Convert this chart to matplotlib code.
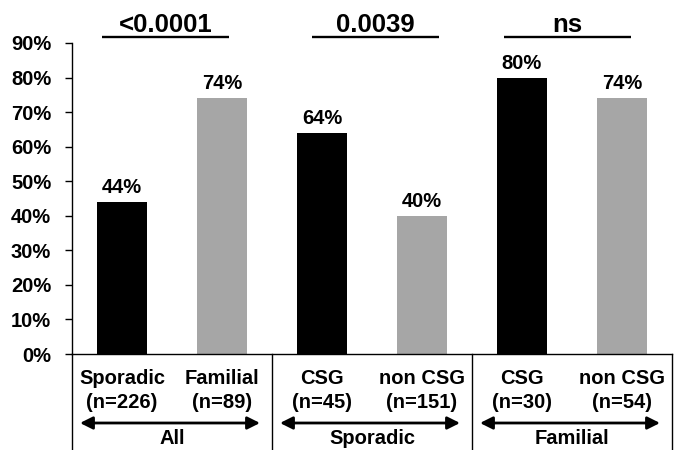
import matplotlib
matplotlib.use("Agg")
import matplotlib.pyplot as plt
import matplotlib.transforms as mtransforms

plt.rcParams['font.family'] = ['Liberation Sans', 'DejaVu Sans']
plt.rcParams['font.weight'] = 'bold'

categories = ["Sporadic", "Familial", "CSG", "non CSG", "CSG", "non CSG"]
n_labels = ["(n=226)", "(n=89)", "(n=45)", "(n=151)", "(n=30)", "(n=54)"]
values = [44, 74, 64, 40, 80, 74]
groups = ["All", "Sporadic", "Familial"]
pvalues = ["<0.0001", "0.0039", "ns"]
yticks = [0, 10, 20, 30, 40, 50, 60, 70, 80, 90]

bar_colors = ["#000000", "#a6a6a6"] * 3

W, H = 676, 450
fig = plt.figure(figsize=(W / 100, H / 100), dpi=100)
ax = fig.add_axes([72 / W, 1 - 354 / H, 600 / W, 311 / H])

x = list(range(len(values)))
ax.bar(x, values, width=0.5, color=bar_colors)
ax.set_xlim(-0.5, 5.5)
ax.set_ylim(0, 90)
ax.set_yticks(yticks)
ax.set_yticklabels([f"{t}%" for t in yticks], fontsize=14.5, fontweight='bold')
ax.set_xticks([])
ax.tick_params(axis='y', direction='out', length=5, width=1, pad=10)
for s in ['top', 'right']:
    ax.spines[s].set_visible(False)
ax.spines['left'].set_linewidth(1)
ax.spines['bottom'].set_linewidth(1)

# value labels
for xi, v in zip(x, values):
    ax.annotate(f"{v}%", (xi, v), xytext=(0, 6.5), textcoords='offset points',
                ha='center', va='baseline', fontsize=14.5, fontweight='bold')

# category labels below axis
blend = mtransforms.blended_transform_factory(ax.transData, fig.transFigure)
for xi, c, n in zip(x, categories, n_labels):
    ax.text(xi, 1 - 379 / H, c, transform=blend, ha='center', va='center',
            fontsize=14.5, fontweight='bold')
    ax.text(xi, 1 - 403 / H, n, transform=blend, ha='center', va='center',
            fontsize=14.5, fontweight='bold')

# table lines
for xb in [-0.5, 1.5, 3.5, 5.5]:
    ax.plot([xb, xb], [1 - 354 / H, 0], transform=blend, color='black', lw=1,
            clip_on=False)

# group arrows and labels
for gi, g in enumerate(groups):
    start = -0.5 + 2 * gi
    ax.annotate("", xy=(start + 0.08, 1 - 423 / H), xytext=(start + 1.88, 1 - 423 / H),
                xycoords=blend, textcoords=blend,
                arrowprops=dict(arrowstyle='<|-|>,head_length=0.5,head_width=0.25',
                                mutation_scale=15, lw=2, color='black',
                                shrinkA=0, shrinkB=0))
    ax.text(start + 1.0, 1 - 438 / H, g, transform=blend, ha='center', va='center',
            fontsize=14.5, fontweight='bold')

# significance bars
line_spans = [(-0.2, 1.07), (1.9, 3.17), (3.82, 5.09)]
line_y = (354 - 36.5) / 3.456
text_y = (354 - 32) / 3.456
for (a, b), p in zip(line_spans, pvalues):
    ax.plot([a, b], [line_y, line_y], color='black', lw=1.7, clip_on=False,
            solid_capstyle='butt')
    ax.text((a + b) / 2, text_y, p, ha='center', va='baseline', fontsize=18.5,
            fontweight='bold', clip_on=False)

fig.savefig("out.png", dpi=100)
